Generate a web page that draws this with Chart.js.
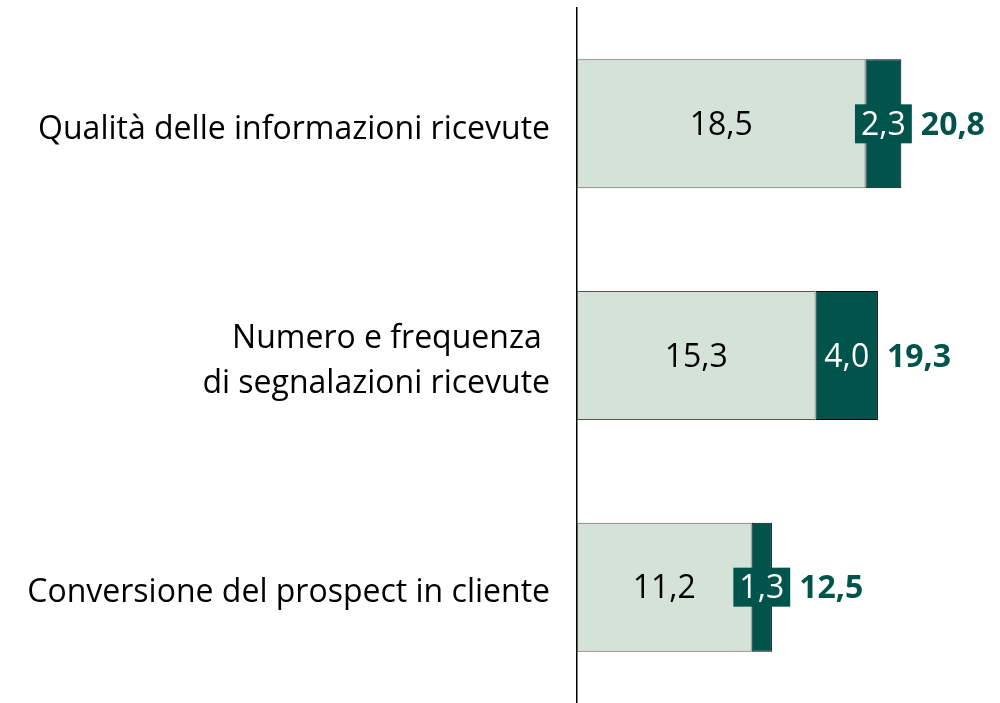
<!DOCTYPE html>
<html>
<head>
<meta charset="utf-8">
<script src="https://cdn.jsdelivr.net/npm/chart.js@4"></script>
<style>
  body { margin: 0; background: #fff; }
  #wrap { width: 1000px; height: 703px; }
</style>
</head>
<body>
<div id="wrap"><canvas id="myChart" width="1000" height="703"></canvas></div>
<script>
const categories = [
  "Qualità delle informazioni ricevute",
  ["Numero e frequenza ", "di segnalazioni ricevute"],
  "Conversione del prospect in cliente"
];
const lightValues = [18.5, 15.3, 11.2];
const darkValues = [2.3, 4.0, 1.3];

const lightColor = '#d5e2d8';
const darkColor = '#00544c';
const fontFamily = '"Open Sans", "Noto Sans", sans-serif';

function fmt(v) {
  return v.toFixed(1).replace('.', ',');
}

// draws the numbers on and next to the bars
const barLabels = {
  id: 'barLabels',
  afterDatasetsDraw(chart) {
    const ctx = chart.ctx;
    const m0 = chart.getDatasetMeta(0);
    const m1 = chart.getDatasetMeta(1);
    ctx.save();
    ctx.textBaseline = 'middle';
    for (let i = 0; i < categories.length; i++) {
      const a = m0.data[i];
      const b = m1.data[i];
      ctx.font = '32px ' + fontFamily;
      ctx.textAlign = 'center';
      ctx.fillStyle = '#000';
      ctx.fillText(fmt(lightValues[i]), (a.x + a.base) / 2, a.y + 2);

      const t = fmt(darkValues[i]);
      const w = ctx.measureText(t).width + 12;
      const cx = (b.x + b.base) / 2;
      ctx.fillStyle = darkColor;
      ctx.fillRect(cx - w / 2, b.y - 19.5, w, 39);
      ctx.fillStyle = '#fff';
      ctx.fillText(t, cx, b.y + 2);

      const right = Math.max(b.x, cx + w / 2);
      ctx.font = 'bold 32px ' + fontFamily;
      ctx.textAlign = 'left';
      ctx.fillStyle = darkColor;
      ctx.fillText(fmt(lightValues[i] + darkValues[i]), right + 9, b.y + 2);
    }
    ctx.restore();
  }
};

new Chart(document.getElementById('myChart'), {
  type: 'bar',
  data: {
    labels: categories,
    datasets: [{
      data: lightValues,
      backgroundColor: lightColor,
      borderColor: '#595959',
      borderWidth: 1,
      borderSkipped: false,
      barPercentage: 1,
      categoryPercentage: 0.557
    }, {
      data: darkValues,
      backgroundColor: darkColor,
      borderColor: '#000',
      borderWidth: 1,
      borderSkipped: false,
      barPercentage: 1,
      categoryPercentage: 0.557
    }]
  },
  options: {
    indexAxis: 'y',
    responsive: false,
    animation: false,
    layout: { padding: { top: 8, right: 2, bottom: 0, left: 0 } },
    plugins: {
      legend: { display: false },
      tooltip: { enabled: false }
    },
    scales: {
      x: {
        stacked: true,
        display: false,
        min: 0,
        max: 27
      },
      y: {
        stacked: true,
        grid: { display: false, drawTicks: false },
        border: { color: '#000', width: 1.5 },
        ticks: {
          color: '#000',
          font: { family: fontFamily, size: 32, lineHeight: 1.4 },
          padding: 27,
          labelOffset: 6
        },
        afterFit(scale) {
          scale.width = 577;
          scale.paddingTop = 0;
          scale.paddingBottom = 0;
        }
      }
    }
  },
  plugins: [barLabels]
});
</script>
</body>
</html>
